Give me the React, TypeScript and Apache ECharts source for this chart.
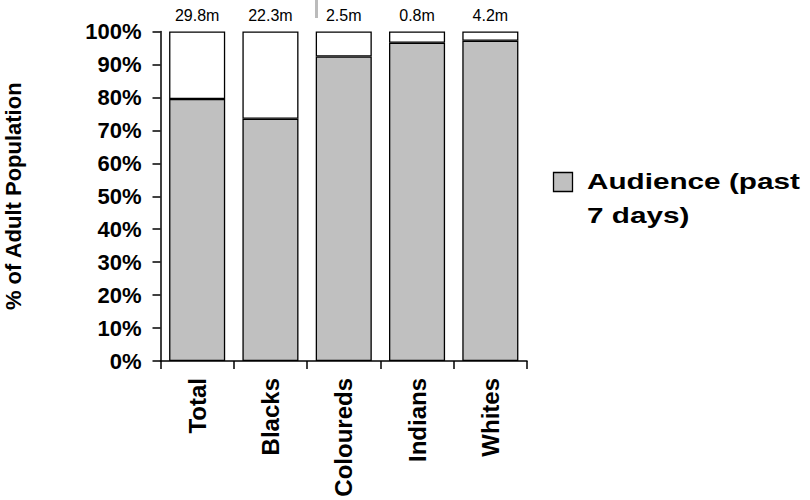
import React, { useEffect, useRef } from "react";
import * as echarts from "echarts";

const categories = ["Total", "Blacks", "Coloureds", "Indians", "Whites"];
const audiencePct = [79.5, 73.5, 92.4, 96.6, 97.2];
const populationLabels = ["29.8m", "22.3m", "2.5m", "0.8m", "4.2m"];
const yTicks = [0, 10, 20, 30, 40, 50, 60, 70, 80, 90, 100];
const legendLines = ["Audience (past", "7 days)"];

const FONT = "'Liberation Sans', Arial, Helvetica, sans-serif";

export default function App() {
  const ref = useRef<HTMLDivElement>(null);
  useEffect(() => {
    document.body.style.margin = "0";
    if (!ref.current) return;
    const chart = echarts.init(ref.current, undefined, { renderer: "svg" });
    const remainder = audiencePct.map((v) => +(100 - v).toFixed(1));
    chart.setOption({
      animation: false,
      backgroundColor: "#fff",
      textStyle: { fontFamily: FONT },
      grid: { left: 160.5, right: 283, top: 31.5, bottom: 139, containLabel: false },
      xAxis: {
        type: "category",
        data: categories,
        axisLine: { show: true, lineStyle: { color: "#000", width: 1.5 } },
        axisTick: { show: true, alignWithLabel: false, length: 8, lineStyle: { color: "#000", width: 1.5 } },
        axisLabel: {
          rotate: 90,
          fontFamily: FONT,
          fontSize: 24,
          fontWeight: "bold",
          color: "#000",
          margin: 17,
        },
      },
      yAxis: {
        type: "value",
        min: yTicks[0],
        max: yTicks[yTicks.length - 1],
        interval: 10,
        name: "% of Adult Population",
        nameLocation: "middle",
        nameRotate: 90,
        nameGap: 136,
        nameTextStyle: { fontFamily: FONT, fontSize: 22, fontWeight: "bold", color: "#000" },
        axisLine: { show: true, lineStyle: { color: "#000", width: 1.5 } },
        axisTick: { show: true, length: 8, lineStyle: { color: "#000", width: 1.5 } },
        splitLine: { show: false },
        axisLabel: {
          formatter: "{value}%",
          fontFamily: FONT,
          fontSize: 22,
          fontWeight: "bold",
          color: "#000",
          margin: 19,
        },
      },
      series: [
        {
          name: "Audience (past 7 days)",
          type: "bar",
          stack: "s",
          data: audiencePct,
          barWidth: "76.5%",
          itemStyle: { color: "#c0c0c0", borderColor: "#000", borderWidth: 1.3 },
        },
        {
          name: "Rest",
          type: "bar",
          stack: "s",
          data: remainder,
          barWidth: "76.5%",
          itemStyle: { color: "#fff", borderColor: "#000", borderWidth: 1.3 },
          label: {
            show: true,
            position: "top",
            distance: 8,
            formatter: (p: any) => populationLabels[p.dataIndex],
            fontFamily: FONT,
            fontSize: 16,
            color: "#000",
          },
        },
      ],
      graphic: [
        {
          type: "line",
          shape: { x1: 316.5, y1: 0, x2: 316.5, y2: 18 },
          style: { stroke: "#bbb", lineWidth: 3 },
        },
        {
          type: "rect",
          shape: { x: 553.5, y: 172.5, width: 19, height: 19 },
          style: { fill: "#c0c0c0", stroke: "#000", lineWidth: 1.3 },
        },
        {
          type: "text",
          x: 587,
          y: 164,
          scaleX: 1.35,
          style: {
            text: legendLines.join("\n"),
            fontFamily: FONT,
            fontSize: 22,
            fontWeight: "bold",
            fill: "#000",
            lineHeight: 34,
            verticalAlign: "top",
          },
        },
      ],
    });
    return () => chart.dispose();
  }, []);
  return <div ref={ref} style={{ width: 810, height: 500 }} />;
}
